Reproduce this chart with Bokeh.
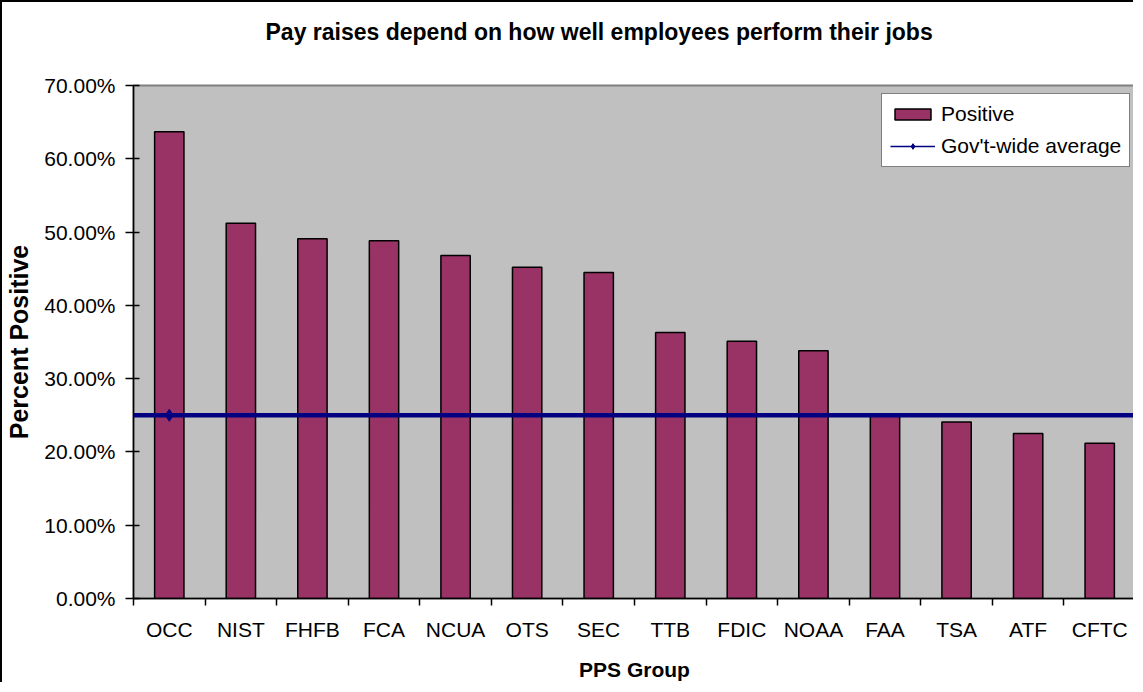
import numpy as np
from bokeh.plotting import figure
from bokeh.models import (ColumnDataSource, FixedTicker, NumeralTickFormatter, Span,
                          Legend, LegendItem, Range1d, Title)
from bokeh.embed import file_html
from bokeh.resources import INLINE

title_text = "Pay raises depend on how well employees perform their jobs"
categories = ["OCC", "NIST", "FHFB", "FCA", "NCUA", "OTS", "SEC", "TTB", "FDIC",
              "NOAA", "FAA", "TSA", "ATF", "CFTC"]
positive = [0.637, 0.512, 0.491, 0.488, 0.468, 0.452, 0.445, 0.363, 0.351,
            0.338, 0.251, 0.241, 0.225, 0.212]
govt_avg = 0.25
y_ticks = [0.0, 0.1, 0.2, 0.3, 0.4, 0.5, 0.6, 0.7]

n = len(categories)
centers = [i + 0.5 for i in range(n)]
bounds = [float(i) for i in range(n + 1)]

FONT = "Liberation Sans"
MAROON = "#993366"
NAVY = "#000080"

p = figure(width=1133, height=682, output_backend="svg", toolbar_location=None,
           x_range=Range1d(0, n), y_range=Range1d(0, 0.7),
           min_border_left=126, min_border_right=0, min_border_top=83, min_border_bottom=86,
           background_fill_color="#C0C0C0", border_fill_color="white")
p.styles = {"border-left": "2px solid black", "border-top": "2px solid black"}
p.outline_line_color = "#808080"
p.outline_line_width = 2
p.grid.visible = False

src = ColumnDataSource(dict(x=centers, top=positive, cat=categories))
bars = p.vbar(x="x", top="top", width=0.41, source=src, fill_color=MAROON,
              line_color="black", line_width=1.5)

# thin legend line lies under the thick average span
avg_src = ColumnDataSource(dict(x=[bounds[0], bounds[-1]], y=[govt_avg, govt_avg]))
leg_line = p.line(x="x", y="y", source=avg_src, line_color=NAVY, line_width=1.5)

span = Span(location=govt_avg, dimension="width", line_color=NAVY, line_width=4.5)
p.add_layout(span)
mk = p.scatter(x=[centers[0]], y=[govt_avg], marker="diamond", size=12,
               fill_color=NAVY, line_color=NAVY)
mk.level = "overlay"

legend = Legend(items=[LegendItem(label="Positive", renderers=[bars]),
                       LegendItem(label="Gov't-wide average", renderers=[leg_line, mk])],
                location=(748, 431))
legend.label_text_font = FONT
legend.label_text_font_size = "21px"
legend.label_text_color = "black"
legend.glyph_width = 45
legend.glyph_height = 14
legend.label_standoff = 6
legend.padding = 8
legend.spacing = 8
legend.border_line_color = "black"
legend.border_line_width = 1.5
legend.background_fill_color = "white"
legend.background_fill_alpha = 1.0
legend.margin = 0
p.add_layout(legend)

# axes
xa = p.xaxis[0]
xa.ticker = FixedTicker(ticks=centers, minor_ticks=bounds)
xa.major_label_overrides = {c: lab for c, lab in zip(centers, categories)}
xa.major_tick_line_color = None
xa.minor_tick_in = 0
xa.minor_tick_out = 7
xa.minor_tick_line_color = "black"
xa.minor_tick_line_width = 1.5
xa.axis_line_color = "black"
xa.axis_line_width = 1.5
xa.major_label_text_font = FONT
xa.major_label_text_font_size = "21px"
xa.major_label_text_color = "black"
xa.major_label_standoff = 12
xa.axis_label = "PPS Group"
xa.axis_label_text_font = FONT
xa.axis_label_text_font_size = "21px"
xa.axis_label_text_font_style = "bold"
xa.axis_label_text_color = "black"
xa.axis_label_standoff = 14

ya = p.yaxis[0]
ya.ticker = FixedTicker(ticks=y_ticks, minor_ticks=[])
ya.formatter = NumeralTickFormatter(format="0.00%")
ya.major_tick_in = 6
ya.major_tick_out = 8
ya.major_tick_line_color = "black"
ya.major_tick_line_width = 1.5
ya.axis_line_color = "black"
ya.axis_line_width = 1.5
ya.major_label_text_font = FONT
ya.major_label_text_font_size = "21px"
ya.major_label_text_color = "black"
ya.major_label_standoff = 10
ya.axis_label = "Percent Positive"
ya.axis_label_text_font = FONT
ya.axis_label_text_font_size = "25px"
ya.axis_label_text_font_style = "bold"
ya.axis_label_text_color = "black"
ya.axis_label_standoff = 8

# blank spacer between the title and the plot area
spacer = Title(text=" ", text_font_size="10px", standoff=28)
p.add_layout(spacer, "above")

p.title.text = title_text
p.title.text_font = FONT
p.title.text_font_size = "23px"
p.title.text_font_style = "bold"
p.title.text_color = "black"
p.title.align = "left"
p.title.vertical_align = "bottom"
p.title.offset = 132
p.title.standoff = 0

open("out.html", "w").write(file_html(p, INLINE))
